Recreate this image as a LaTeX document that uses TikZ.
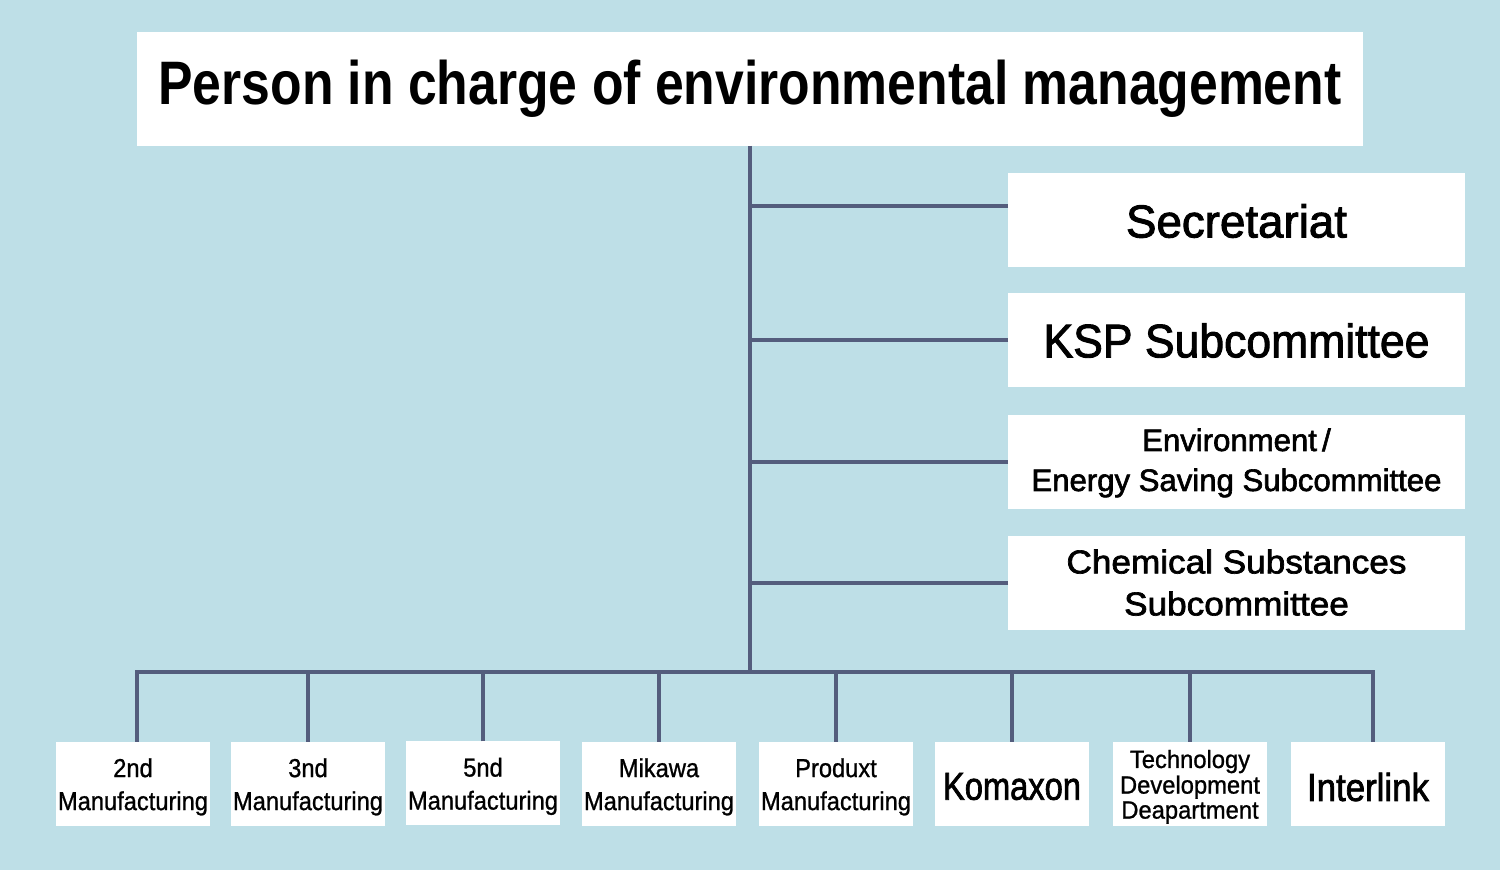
\documentclass[tikz,border=0pt]{standalone}
\usepackage{fontspec}
\setmainfont{Liberation Sans}
\newfontfamily\semibf[FakeBold=1]{Liberation Sans}
\newfontfamily\medbf[FakeBold=2]{Liberation Sans}
\usepackage{graphicx}
\definecolor{bgclr}{HTML}{BEDFE7}
\definecolor{lineclr}{HTML}{545D7D}
\newcommand\fitw[2]{\resizebox{#1}{\height}{#2}}
\newcommand\fitlines[2]{\resizebox{#1}{\height}{\begin{tabular}{@{}c@{}}#2\end{tabular}}}
\newcommand\txtdown[2]{\raisebox{-#1}[\height][\depth]{#2}}
\newcommand\unitfont{\semibf\fontsize{13}{16.5}\selectfont}
\begin{document}
\begin{tikzpicture}[x=0.5pt,y=-0.5pt,
  box/.style={fill=white,inner sep=0pt,outer sep=0pt},
  topbox/.style={box,minimum width=613pt,minimum height=57pt},
  sidebox/.style={box,minimum width=228.5pt,minimum height=47pt},
  unitbox/.style={box,minimum width=77pt,minimum height=42pt},
  conn/.style={draw=lineclr,line width=2pt}]
\fill[bgclr] (0,0) rectangle (1500,870);
\useasboundingbox (0,0) rectangle (1500,870);

% top
\node[topbox] (title) at (750,89) {\bfseries\fontsize{30.7}{34}\selectfont\fitw{591.5pt}{Person in charge of environmental management}};

% side boxes
\node[sidebox] (sec) at (1236.5,220) {\medbf\fontsize{23}{27}\selectfont\txtdown{0.5pt}{\fitw{110.5pt}{Secretariat}}};
\node[sidebox] (ksp) at (1236.5,340.5) {\medbf\fontsize{23.5}{27}\selectfont\fitw{193pt}{KSP Subcommittee}};
\node[sidebox] (env) at (1236.5,462) {\medbf\fontsize{15.5}{20}\selectfont\txtdown{0.5pt}{\fitlines{205pt}{Environment\,/\\Energy Saving Subcommittee}}};
\node[sidebox] (chem) at (1236.5,583) {\medbf\fontsize{16.5}{21}\selectfont\txtdown{1.5pt}{\fitlines{170pt}{Chemical Substances\\Subcommittee}}};

% unit boxes
\node[unitbox] (u1) at (133,784) {\unitfont\txtdown{1.5pt}{\fitlines{75pt}{2nd\\Manufacturing}}};
\node[unitbox] (u2) at (308,784) {\unitfont\txtdown{1.5pt}{\fitlines{75pt}{3nd\\Manufacturing}}};
\node[unitbox] (u3) at (483,783.5) {\unitfont\txtdown{1.5pt}{\fitlines{75pt}{5nd\\Manufacturing}}};
\node[unitbox] (u4) at (659,784) {\unitfont\txtdown{1.5pt}{\fitlines{75pt}{Mikawa\\Manufacturing}}};
\node[unitbox] (u5) at (836,784) {\unitfont\txtdown{1.5pt}{\fitlines{75pt}{Produxt\\Manufacturing}}};
\node[unitbox] (u6) at (1012,784) {\medbf\fontsize{19.5}{23}\selectfont\txtdown{1.25pt}{\fitw{69pt}{Komaxon}}};
\node[unitbox] (u7) at (1190,784) {\semibf\fontsize{12.5}{12.5}\selectfont\txtdown{2pt}{\fitlines{70pt}{Technology\\Development\\Deapartment}}};
\node[unitbox] (u8) at (1368,784) {\medbf\fontsize{19.5}{23}\selectfont\txtdown{1.5pt}{\fitw{61pt}{Interlink}}};

% connectors
\coordinate (bus) at (750,672);
\coordinate (secin) at ([yshift=7pt]sec.west);
\draw[conn] (title.south) -- (title.south |- bus);
\draw[conn] (secin) -- (title.south |- secin);
\foreach \b in {ksp,env,chem}
  \draw[conn] (\b.west) -- (title.south |- \b.west);
\draw[conn] ([xshift=2pt]u1.north) |- ([xshift=2.5pt]u8.north |- bus) -- ([xshift=2.5pt]u8.north);
\foreach \b in {u2,u3,u4,u5,u6,u7}
  \draw[conn] (\b.north) -- (\b.north |- bus);
\end{tikzpicture}
\end{document}
